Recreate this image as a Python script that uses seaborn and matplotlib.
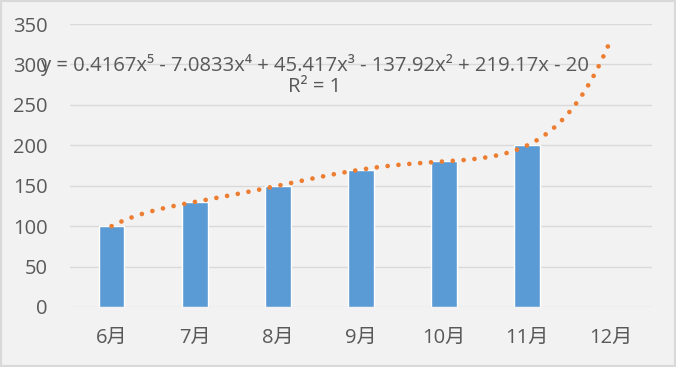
import numpy as np
import pandas as pd
import seaborn as sns
import matplotlib
matplotlib.use("Agg")
import matplotlib.pyplot as plt
from matplotlib.patches import Rectangle

months = ["6月", "7月", "8月", "9月", "10月", "11月", "12月"]
values = [100, 130, 150, 170, 180, 200]
yticks = [0, 50, 100, 150, 200, 250, 300, 350]
equation = "y = 0.4167x⁵ - 7.0833x⁴ + 45.417x³ - 137.92x² + 219.17x - 20"
r2_text = "R² = 1"

sns.set_theme(style="white")
plt.rcParams['font.family'] = ['Open Sans', 'Noto Sans CJK SC', 'DejaVu Sans']

bg = "#f2f2f2"
DPI = 100
fig = plt.figure(figsize=(6.76, 3.67), dpi=DPI, facecolor=bg)
ax = fig.add_axes([0.1036, 0.1635, 0.861, 0.771])
ax.set_facecolor(bg)

df = pd.DataFrame({"month": months[:len(values)], "value": values})
sns.barplot(data=df, x="month", y="value", order=months, color="#5B9BD5",
            width=0.31, saturation=1, ax=ax, zorder=2)

ax.set_xlim(-0.5, 6.5)
ax.set_ylim(0, 350)
ax.set_yticks(yticks)

# polynomial trendline (order 5), forecast forward ~0.97 period
xs = np.arange(1, len(values) + 1)
coef = np.polyfit(xs, values, 5)
xt = np.linspace(1, len(values) + 0.97, 600)
yt = np.polyval(coef, xt)

# tune dot spacing so that both ends land on a dot
lw = 3.4
pts = ax.transData.transform(np.column_stack([xt - 1, yt]))
L = np.sum(np.hypot(np.diff(pts[:, 0]), np.diff(pts[:, 1])))
n = max(1, round(L / 11.0))
gap_pt = (L / (n + 0.04)) * 72.0 / DPI
ax.plot(xt - 1, yt, color="#ED7D31", lw=lw,
        linestyle=(0, (0.001, gap_pt / lw - 0.001)),
        dash_capstyle="round", zorder=3)

ax.grid(axis="y", color="#d9d9d9", lw=1, zorder=0)
ax.set_axisbelow(True)
for s in ax.spines.values():
    s.set_visible(False)
ax.tick_params(axis="both", length=0, labelsize=14.5, colors="#595959")
ax.tick_params(axis="y", pad=16)
ax.tick_params(axis="x", pad=15)
ax.set_xlabel("")
ax.set_ylabel("")

ax.text(0.421, 0.855, equation, transform=ax.transAxes, ha="center", va="center",
        fontsize=14.6, color="#595959", zorder=4)
ax.text(0.421, 0.778, r2_text, transform=ax.transAxes, ha="center", va="center",
        fontsize=14.6, color="#595959", zorder=4)

fig.patches.append(Rectangle((0, 0), 1, 1, transform=fig.transFigure, fill=False,
                             edgecolor="#d9d9d9", lw=3, zorder=10))

fig.savefig("out.png", dpi=DPI, facecolor=bg)
